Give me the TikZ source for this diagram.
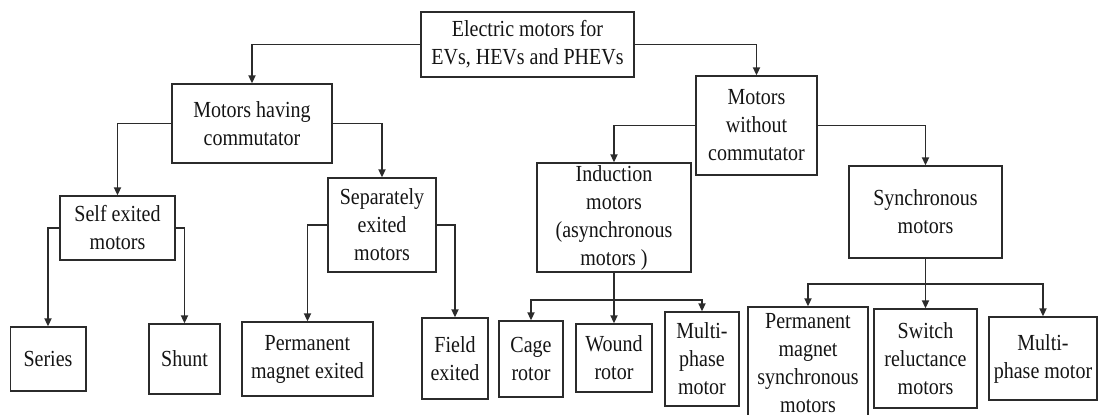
\documentclass[tikz,border=0pt]{standalone}
\usepackage{fontspec}
\setmainfont{Liberation Serif}[FakeStretch=0.87]
\usepackage{tikz}
\usetikzlibrary{arrows.meta,positioning,calc}
\definecolor{mline}{HTML}{2B2B2B}
\definecolor{mtext}{HTML}{141414}

\begin{document}
\begin{tikzpicture}[x=0.5pt,y=-0.5pt,
  mbox/.style={draw=mline, line width=0.75pt, align=center, inner sep=0pt,
    text=mtext, font=\fontsize{11.5}{14}\selectfont},
  bsize/.style 2 args={minimum width=#1*0.5pt, minimum height=#2*0.5pt},
  link/.style={draw=mline, line width=0.75pt, -{Triangle[length=4pt,width=3.6pt]}},
]
% frame 1100 x 414 px, 1px = 0.5pt, y runs downwards
\clip (0,0) rectangle (1100,414);

% top levels
\node[mbox, bsize={213}{65}] (root) at (527.5,44.5) {Electric motors for\\EVs, HEVs and PHEVs};
\node[mbox, bsize={160}{79}] (mhc) at (252,123.5) {Motors having\\commutator};
\node[mbox, bsize={121}{99}] (mwc) at (756.5,125.5) {Motors\\without\\commutator};
\node[mbox, bsize={115}{64}] (sem) at (117.5,228) {Self exited\\motors};
\node[mbox, bsize={108}{94}] (sxm) at (382,225) {Separately\\exited\\motors};
\node[mbox, bsize={154}{109}] (ind) at (614,217.5) {Induction\\motors\\(asynchronous\\motors )};
\node[mbox, bsize={153}{92}] (syn) at (925.5,212) {Synchronous\\motors};

% bottom row
\node[mbox, bsize={75.5}{64}] (series) at (48,359) {Series};
\node[mbox, bsize={71}{70}] (shunt) at (184.5,359) {Shunt};
\node[mbox, bsize={131}{74}] (pme) at (307.5,359) {Permanent\\magnet exited};
\node[mbox, bsize={66}{81}] (field) at (455,358.5) {Field\\exited};
\node[mbox, bsize={64}{76}] (cage) at (531,359) {Cage\\rotor};
\node[mbox, bsize={76}{68}] (wound) at (614,358) {Wound\\rotor};
\node[mbox, bsize={74}{94}] (imp) at (702,359) {Multi-\\phase\\motor};
\node[mbox, bsize={120}{112}] (pmsm) at (808,363) {Permanent\\magnet\\synchronous\\motors};
\node[mbox, bsize={103}{99}] (srm) at (925.5,358.5) {Switch\\reluctance\\motors};
\node[mbox, bsize={108}{83}] (smp) at (1043,358.5) {Multi-\\phase motor};

% first and second level
\draw[link] (root.west) -| (mhc.north);
\draw[link] (root.east) -| (mwc.north);
\draw[link] (mhc.west) -| (sem.north);
\draw[link] (mhc.east) -| (sxm.north);
\draw[link] (mwc.west) -| (ind.north);
\draw[link] (mwc.east) -| (syn.north);

% commutator motors
\draw[link] (sem.west) -| (series.north);
\draw[link] (sem.east) -| (shunt.north);
\draw[link] (sxm.west) -| (pme.north);
\draw[link] (sxm.east) -| (field.north);

% induction motors
\coordinate (ibus) at ($(ind.south)+(0,27)$);
\draw[link] (ind.south) -- (wound.north);
\draw[link] (ibus) -| (cage.north);
\draw[link] (ibus) -| (imp.north);

% synchronous motors
\coordinate (sbus) at ($(syn.south)+(0,25)$);
\draw[link] (syn.south) -- (srm.north);
\draw[link] (sbus) -| (pmsm.north);
\draw[link] (sbus) -| (smp.north);
\end{tikzpicture}
\end{document}
